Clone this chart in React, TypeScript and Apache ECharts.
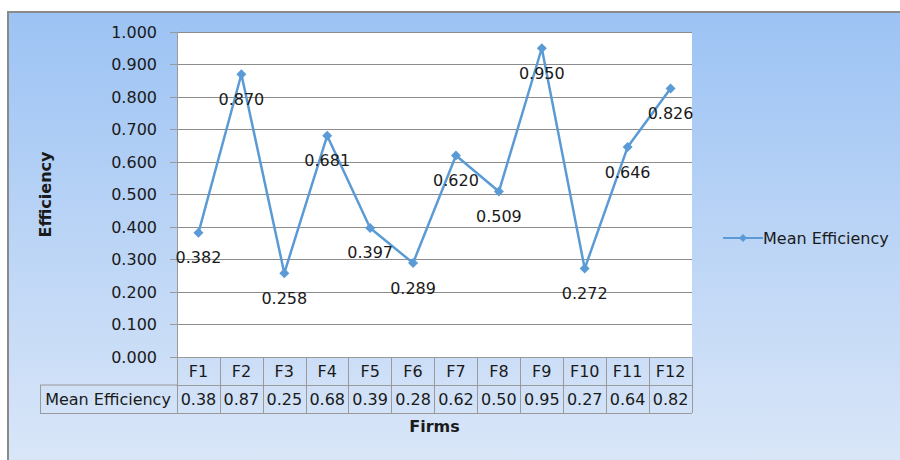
import React, { useEffect, useRef } from "react";
import * as echarts from "echarts";

const firms = ["F1", "F2", "F3", "F4", "F5", "F6", "F7", "F8", "F9", "F10", "F11", "F12"];
const meanEfficiency = [0.382, 0.87, 0.258, 0.681, 0.397, 0.289, 0.62, 0.509, 0.95, 0.272, 0.646, 0.826];
const tableValues = ["0.38", "0.87", "0.25", "0.68", "0.39", "0.28", "0.62", "0.50", "0.95", "0.27", "0.64", "0.82"];
const seriesName = "Mean Efficiency";
const yTicks = { min: 0, max: 1, interval: 0.1 };

const FONT = "'DejaVu Sans', sans-serif";
const FS = 16;
const TEXT = "#1a1a1a";
const BORDER = "#9a9a9a";

export default function App() {
  const ref = useRef<HTMLDivElement>(null);
  useEffect(() => {
    if (!ref.current) return;
    const chart = echarts.init(ref.current, undefined, { renderer: "svg" });
    const gl = 177, gr = 692, gt = 32, gb = 357;
    chart.setOption({
      animation: false,
      backgroundColor: "transparent",
      textStyle: { fontFamily: FONT },
      grid: {
        left: gl,
        right: 900 - gr,
        top: gt,
        bottom: 460 - gb,
        show: true,
        backgroundColor: "#ffffff",
        borderWidth: 0,
      },
      legend: {
        left: 717,
        top: 225,
        orient: "vertical",
        itemWidth: 40,
        itemHeight: 10,
        itemGap: 4,
        textStyle: { fontFamily: FONT, fontSize: FS, color: TEXT, padding: [0, 0, 0, -5] },
        data: [seriesName],
      },
      xAxis: [
        {
          type: "category",
          data: firms,
          position: "bottom",
          boundaryGap: true,
          axisLine: { show: true, lineStyle: { color: BORDER, width: 1 } },
          axisTick: { show: true, length: 56, interval: 0, lineStyle: { color: BORDER, width: 1 } },
          axisLabel: {
            interval: 0,
            margin: 14,
            verticalAlign: "middle",
            fontFamily: FONT,
            fontSize: FS,
            color: TEXT,
          },
        },
        {
          type: "category",
          data: tableValues,
          position: "bottom",
          offset: 28,
          boundaryGap: true,
          axisLine: { show: true, lineStyle: { color: BORDER, width: 1 } },
          axisTick: { show: false },
          axisLabel: {
            interval: 0,
            margin: 14,
            verticalAlign: "middle",
            fontFamily: FONT,
            fontSize: FS,
            color: TEXT,
          },
        },
      ],
      yAxis: {
        type: "value",
        min: yTicks.min,
        max: yTicks.max,
        interval: yTicks.interval,
        axisLine: { show: true, lineStyle: { color: BORDER, width: 1 } },
        axisTick: { show: true, length: 7, lineStyle: { color: BORDER } },
        splitLine: { show: true, lineStyle: { color: "#8c8c8c", width: 1 } },
        axisLabel: {
          margin: 20,
          fontFamily: FONT,
          fontSize: FS,
          color: TEXT,
          formatter: (v: number) => v.toFixed(3),
        },
      },
      series: [
        {
          name: seriesName,
          type: "line",
          data: meanEfficiency,
          xAxisIndex: 0,
          symbol: "diamond",
          symbolSize: 10,
          lineStyle: { color: "#5B9BD5", width: 2.5 },
          itemStyle: { color: "#5B9BD5" },
          label: {
            show: true,
            position: "bottom",
            distance: 12,
            fontFamily: FONT,
            fontSize: FS,
            color: TEXT,
            formatter: (p: any) => Number(p.value).toFixed(3),
          },
        },
      ],
      graphic: [
        { type: "line", shape: { x1: 40, y1: 385, x2: gl, y2: 385 }, style: { stroke: BORDER, lineWidth: 1 } },
        { type: "line", shape: { x1: 40.5, y1: 385, x2: 40.5, y2: 413 }, style: { stroke: BORDER, lineWidth: 1 } },
        { type: "line", shape: { x1: 40, y1: 413.5, x2: gr, y2: 413.5 }, style: { stroke: BORDER, lineWidth: 1 } },
        {
          type: "text",
          x: 108,
          y: 399,
          style: { text: seriesName, fontFamily: FONT, fontSize: FS, fill: TEXT, textAlign: "center", textVerticalAlign: "middle" },
        },
        {
          type: "text",
          x: (gl + gr) / 2,
          y: 426,
          style: { text: "Firms", fontFamily: FONT, fontSize: FS, fontWeight: "bold", fill: TEXT, textAlign: "center", textVerticalAlign: "middle" },
        },
        {
          type: "text",
          x: 45,
          y: (gt + gb) / 2,
          rotation: Math.PI / 2,
          style: { text: "Efficiency", fontFamily: FONT, fontSize: FS, fontWeight: "bold", fill: TEXT, textAlign: "center", textVerticalAlign: "middle" },
        },
      ],
    });
    return () => chart.dispose();
  }, []);

  return (
    <div style={{ position: "absolute", left: 0, top: 0, width: 900, height: 460, background: "#ffffff", overflow: "hidden" }}>
      <div
        style={{
          position: "absolute",
          left: 7,
          top: 11,
          width: 900,
          height: 460,
          borderLeft: "2px solid #8a8a8a",
          borderTop: "2px solid #8a8a8a",
          background: "linear-gradient(to bottom, #9cc3f4 0%, #bcd5f6 50%, #dbe7f8 100%)",
        }}
      />
      <div ref={ref} style={{ position: "absolute", left: 0, top: 0, width: 900, height: 460 }} />
    </div>
  );
}
